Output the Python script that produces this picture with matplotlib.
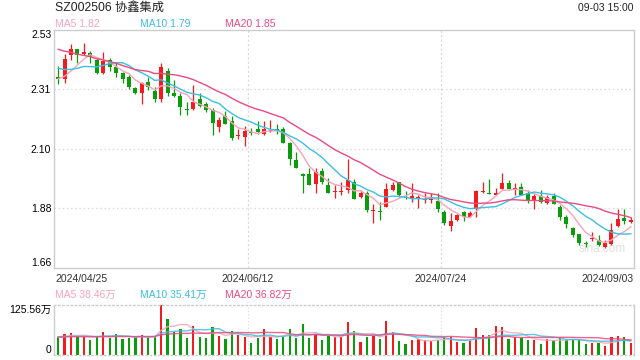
import numpy as np
import matplotlib
matplotlib.use('Agg')
import matplotlib.pyplot as plt

plt.rcParams['font.family'] = ['Liberation Sans', 'Noto Sans CJK SC', 'DejaVu Sans']

# daily k-line, 2024/04/25 .. 2024/09/03 (90 sessions)
opens = [2.357, 2.350, 2.439, 2.459, 2.444, 2.447, 2.420, 2.372, 2.420, 2.396,
         2.372, 2.359, 2.317, 2.301, 2.339, 2.308, 2.278, 2.380, 2.301, 2.289,
         2.240, 2.240, 2.278, 2.260, 2.238, 2.177, 2.216, 2.197, 2.144, 2.138,
         2.158, 2.169, 2.150, 2.160, 2.169, 2.167, 2.116, 2.055, 2.004, 2.004,
         1.966, 2.015, 1.963, 1.937, 1.938, 1.945, 1.976, 1.918, 1.933, 1.868,
         1.868, 1.884, 1.945, 1.973, 1.921, 1.917, 1.917, 1.909, 1.909, 1.906,
         1.866, 1.814, 1.835, 1.866, 1.848, 1.876, 1.937, 1.935, 1.928, 1.948,
         1.972, 1.949, 1.957, 1.935, 1.906, 1.923, 1.897, 1.923, 1.884, 1.845,
         1.805, 1.783, 1.753, 1.765, 1.763, 1.736, 1.749, 1.814, 1.844, 1.829]
highs = [2.398, 2.442, 2.479, 2.462, 2.482, 2.452, 2.426, 2.450, 2.426, 2.408,
         2.377, 2.365, 2.323, 2.341, 2.359, 2.323, 2.408, 2.390, 2.347, 2.299,
         2.268, 2.329, 2.299, 2.268, 2.244, 2.213, 2.235, 2.216, 2.167, 2.179,
         2.172, 2.197, 2.197, 2.200, 2.185, 2.174, 2.122, 2.085, 2.006, 2.024,
         2.024, 2.024, 1.988, 1.963, 1.973, 2.057, 1.984, 1.945, 1.940, 1.893,
         1.902, 1.969, 1.973, 1.976, 1.943, 1.969, 1.927, 1.933, 1.933, 1.933,
         1.872, 1.860, 1.857, 1.870, 1.870, 1.945, 1.976, 1.984, 1.953, 2.006,
         1.980, 1.972, 1.972, 1.945, 1.929, 1.945, 1.927, 1.933, 1.890, 1.855,
         1.809, 1.786, 1.757, 1.793, 1.780, 1.763, 1.823, 1.875, 1.875, 1.848]
lows = [2.331, 2.337, 2.420, 2.410, 2.437, 2.409, 2.370, 2.370, 2.380, 2.360,
        2.338, 2.316, 2.296, 2.258, 2.310, 2.268, 2.268, 2.287, 2.285, 2.219,
        2.219, 2.238, 2.247, 2.232, 2.146, 2.158, 2.186, 2.128, 2.130, 2.106,
        2.146, 2.149, 2.146, 2.158, 2.150, 2.117, 2.037, 2.026, 1.935, 1.962,
        1.935, 1.966, 1.934, 1.915, 1.927, 1.935, 1.911, 1.915, 1.865, 1.826,
        1.835, 1.883, 1.941, 1.921, 1.911, 1.902, 1.878, 1.897, 1.897, 1.865,
        1.818, 1.795, 1.832, 1.832, 1.845, 1.845, 1.935, 1.929, 1.927, 1.947,
        1.947, 1.927, 1.926, 1.897, 1.876, 1.897, 1.893, 1.893, 1.835, 1.806,
        1.775, 1.744, 1.738, 1.757, 1.740, 1.733, 1.744, 1.810, 1.822, 1.826]
closes = [2.350, 2.423, 2.459, 2.439, 2.448, 2.430, 2.372, 2.416, 2.394, 2.372,
          2.350, 2.320, 2.299, 2.335, 2.323, 2.277, 2.394, 2.299, 2.290, 2.250,
          2.237, 2.265, 2.252, 2.238, 2.189, 2.201, 2.187, 2.136, 2.148, 2.162,
          2.155, 2.158, 2.167, 2.163, 2.164, 2.118, 2.057, 2.027, 1.997, 1.963,
          2.010, 1.976, 1.935, 1.940, 1.941, 1.982, 1.912, 1.935, 1.872, 1.872,
          1.864, 1.947, 1.963, 1.927, 1.915, 1.922, 1.921, 1.914, 1.914, 1.876,
          1.826, 1.833, 1.854, 1.845, 1.862, 1.943, 1.942, 1.931, 1.933, 1.970,
          1.948, 1.954, 1.927, 1.906, 1.923, 1.902, 1.918, 1.894, 1.845, 1.821,
          1.781, 1.753, 1.748, 1.771, 1.744, 1.750, 1.799, 1.838, 1.833, 1.834]
# volume, 万手
volumes = [46.0, 52.7, 56.1, 44.4, 47.7, 37.7, 44.4, 57.8, 42.7, 52.7,
           41.0, 42.7, 44.4, 50.2, 44.4, 44.4, 125.56, 90.4, 57.8, 65.3,
           42.7, 72.8, 45.2, 42.7, 70.3, 47.7, 40.2, 61.1, 50.2, 45.2,
           31.0, 43.5, 65.3, 45.2, 40.2, 46.0, 65.3, 43.5, 78.7, 43.5,
           51.9, 37.7, 48.6, 46.0, 46.0, 82.9, 60.3, 32.6, 45.2, 48.6,
           40.2, 85.4, 57.8, 35.2, 27.6, 37.7, 40.2, 37.7, 34.3, 36.8,
           44.4, 46.0, 32.6, 30.1, 35.2, 67.8, 50.2, 50.2, 72.8, 70.3,
           40.2, 45.2, 43.5, 37.7, 37.7, 27.6, 40.2, 37.7, 43.5, 37.7,
           37.7, 37.7, 27.6, 30.1, 30.1, 22.6, 45.2, 47.7, 45.2, 30.1]

# the 19 sessions before the window, only needed to start the moving averages
prev_closes = [2.56, 2.55, 2.57, 2.54, 2.52, 2.53, 2.50, 2.51, 2.49, 2.52,
               2.47, 2.45, 2.40, 2.38, 2.44, 2.38, 2.36, 2.33, 2.34]
prev_volumes = [44, 46, 43, 47, 45, 44, 46, 45, 43, 46,
                45, 44, 46, 45, 44, 46, 45, 44, 46]

price_labels = ['1.66', '1.88', '2.10', '2.31', '2.53']
date_labels = ['2024/04/25', '2024/06/12', '2024/07/24', '2024/09/03']
date_pos = [-0.5, 29.5, 59.5, 89.5]

RED = '#f21c1c'
GREEN = '#0b9c0b'
C_MA5 = '#f7a3bb'
C_MA10 = '#3cbfe2'
C_MA20 = '#e94b7f'
GRID = '#d9d9d9'
FRAME = '#cccccc'


def moving_avg(prev, vals, n):
    s = np.concatenate([prev, vals])
    ma = np.convolve(s, np.ones(n) / n, mode='valid')
    return ma[-len(vals):]


o = np.array(opens)
h = np.array(highs)
l = np.array(lows)
c = np.array(closes)
v = np.array(volumes)
x = np.arange(len(c))
cols = [RED if cc >= oo else GREEN for oo, cc in zip(o, c)]

fig = plt.figure(figsize=(6.4, 3.6), dpi=100)
ax = fig.add_axes([54 / 640, 1 - 268 / 360, 580 / 640, 238 / 360])
axv = fig.add_axes([54 / 640, 1 - 355 / 360, 580 / 640, 50 / 360])

# ---- price panel
ax.vlines(x, l, h, colors=cols, lw=0.9)
body = np.maximum(np.abs(c - o), 0.003)
ax.bar(x, body, bottom=np.minimum(o, c), width=0.62, color=cols, lw=0)
ax.plot(x, moving_avg(prev_closes, c, 5), color=C_MA5, lw=1.0)
ax.plot(x, moving_avg(prev_closes, c, 10), color=C_MA10, lw=1.0)
ax.plot(x, moving_avg(prev_closes, c, 20), color=C_MA20, lw=1.0)

ax.set_xlim(-0.65, 89.5)
ax.set_ylim(1.66, 2.53)
yt = np.linspace(1.66, 2.53, 5)
ax.set_yticks(yt)
ax.set_yticklabels(price_labels, fontsize=7.5)
ax.tick_params(axis='y', length=0, pad=2)
tl = ax.get_yticklabels()
tl[0].set_va('bottom')
tl[-1].set_va('top')
ax.set_xticks([])
for yy in yt[1:-1]:
    ax.axhline(yy, color=GRID, lw=1, ls=(0, (1, 2)), zorder=0)
for xx in date_pos[1:3]:
    ax.axvline(xx, color=GRID, lw=0.8, ls=(0, (2, 2)), zorder=0)
for sp in ax.spines.values():
    sp.set_color(FRAME)
    sp.set_linewidth(1)

aligns = ['left', 'center', 'center', 'right']
for pos, lab, ha in zip(date_pos, date_labels, aligns):
    ax.text(pos, -0.047, lab, transform=ax.get_xaxis_transform(),
            ha=ha, va='center', fontsize=7.5, color='#333333')

ax.text(84.6, 1.73, 'sina.com', fontsize=8.5, color='#e0e0e0', ha='center', va='center', zorder=0)

# header
fig.text(55 / 640, 1 - 8 / 360, 'SZ002506 协鑫集成', fontsize=8.8, color='#222222', va='center')
fig.text(634 / 640, 1 - 8 / 360, '09-03 15:00', fontsize=7.5, color='#222222', va='center', ha='right')
fig.text(55 / 640, 1 - 24 / 360, 'MA5 1.82', fontsize=7.5, color=C_MA5, va='center')
fig.text(140 / 640, 1 - 24 / 360, 'MA10 1.79', fontsize=7.5, color=C_MA10, va='center')
fig.text(225 / 640, 1 - 24 / 360, 'MA20 1.85', fontsize=7.5, color=C_MA20, va='center')

# ---- volume panel
axv.bar(x, v, width=0.35, color=cols, lw=0)
axv.plot(x, moving_avg(prev_volumes, v, 5), color=C_MA5, lw=1.0, alpha=0.85)
axv.plot(x, moving_avg(prev_volumes, v, 10), color=C_MA10, lw=1.0, alpha=0.85)
axv.plot(x, moving_avg(prev_volumes, v, 20), color=C_MA20, lw=1.0, alpha=0.85)
axv.set_xlim(-0.65, 89.5)
axv.set_ylim(0, 125.56)
axv.set_yticks([0, 125.56])
axv.set_yticklabels(['0', '125.56万'], fontsize=7.5)
axv.tick_params(axis='y', length=0, pad=2)
vl = axv.get_yticklabels()
vl[0].set_va('bottom')
vl[-1].set_va('top')
axv.set_xticks([])
for xx in date_pos[1:3]:
    axv.axvline(xx, color=GRID, lw=0.8, ls=(0, (1, 2)), zorder=0)
for name, sp in axv.spines.items():
    sp.set_color(FRAME)
    sp.set_linewidth(1)
    if name in ('top', 'bottom'):
        sp.set_linestyle((0, (1, 2)))

fig.text(55 / 640, 1 - 295 / 360, 'MA5 38.46万', fontsize=7.5, color=C_MA5, va='center')
fig.text(140 / 640, 1 - 295 / 360, 'MA10 35.41万', fontsize=7.5, color=C_MA10, va='center')
fig.text(225 / 640, 1 - 295 / 360, 'MA20 36.82万', fontsize=7.5, color=C_MA20, va='center')

fig.savefig('out.png', dpi=100)
